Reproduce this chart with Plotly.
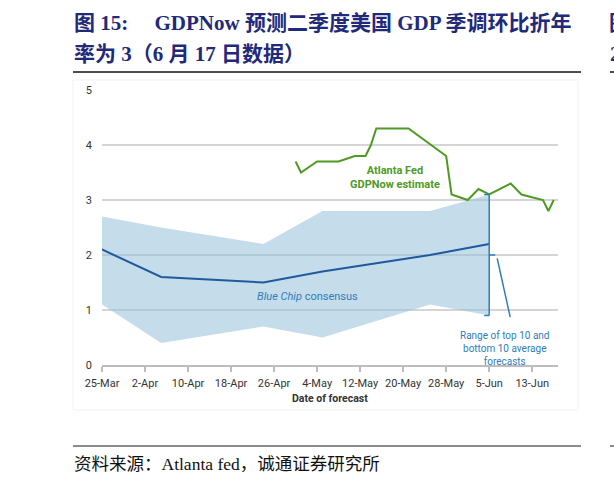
import plotly.graph_objects as go

# ---------------- data ----------------
# Blue Chip consensus survey points and range of top-10 / bottom-10 averages
bc_dates = ["2024-03-25", "2024-04-05", "2024-04-24", "2024-05-05", "2024-05-25", "2024-06-05"]
bc_consensus = [2.1, 1.6, 1.5, 1.7, 2.0, 2.2]
bc_top10 = [2.7, 2.5, 2.2, 2.8, 2.8, 3.1]
bc_bottom10 = [1.1, 0.4, 0.7, 0.5, 1.1, 0.9]

# Atlanta Fed GDPNow estimates
gdpnow_dates = ["2024-04-30", "2024-05-01", "2024-05-04", "2024-05-08", "2024-05-11",
                "2024-05-13", "2024-05-14", "2024-05-15", "2024-05-21", "2024-05-28",
                "2024-05-29", "2024-06-01", "2024-06-03", "2024-06-05", "2024-06-09",
                "2024-06-11", "2024-06-15", "2024-06-16", "2024-06-17"]
gdpnow = [3.7, 3.5, 3.7, 3.7, 3.8, 3.8, 4.0, 4.3, 4.3, 3.8,
          3.1, 3.0, 3.2, 3.1, 3.3, 3.1, 3.0, 2.8, 3.0]

tick_dates = ["2024-03-25", "2024-04-02", "2024-04-10", "2024-04-18", "2024-04-26",
              "2024-05-04", "2024-05-12", "2024-05-20", "2024-05-28", "2024-06-05",
              "2024-06-13"]
tick_labels = ["25-Mar", "2-Apr", "10-Apr", "18-Apr", "26-Apr", "4-May", "12-May",
               "20-May", "28-May", "5-Jun", "13-Jun"]
y_ticks = [0, 1, 2, 3, 4, 5]

title_line1 = "图 15:\u00a0\u00a0\u00a0\u00a0 GDPNow 预测二季度美国 GDP 季调环比折年"
title_line2 = "率为 3（6 月 17 日数据）"
source_text = "资料来源：Atlanta fed，诚通证券研究所"

# ---------------- styles ----------------
W, H = 614, 485
L, R, T, B = 102, 558, 90, 365  # plot area in pixels


def px(x):
    return (x - L) / (R - L)


def py(y):
    return (B - y) / (B - T)


GREEN = "#4f9a24"
BLUE_LINE = "#1f5a9e"
BLUE_TXT = "#2f7dbb"
BAND = "rgba(150,192,218,0.55)"
NAVY = "#1f2a7a"
CHART_FONT = "Roboto, Noto Sans, sans-serif"
TITLE_FONT = "Liberation Serif, Noto Sans CJK SC, serif"

fig = go.Figure()

fig.add_trace(go.Scatter(x=bc_dates, y=bc_bottom10, mode="lines",
                         line=dict(width=0, color=BAND), hoverinfo="skip"))
fig.add_trace(go.Scatter(x=bc_dates, y=bc_top10, mode="lines", fill="tonexty",
                         fillcolor=BAND, line=dict(width=0, color=BAND), hoverinfo="skip"))
fig.add_trace(go.Scatter(x=bc_dates, y=bc_consensus, mode="lines",
                         line=dict(width=2, color=BLUE_LINE)))
fig.add_trace(go.Scatter(x=gdpnow_dates, y=gdpnow, mode="lines",
                         line=dict(width=2, color=GREEN)))

shapes = []
end_d = bc_dates[-1]
top_v, bot_v = bc_top10[-1], bc_bottom10[-1]
mid_v = (top_v + bot_v) / 2
bl = dict(color=BLUE_TXT, width=1.5)
shapes.append(dict(type="line", xref="x", yref="y", x0=end_d, x1=end_d, y0=bot_v, y1=top_v, line=bl))
shapes.append(dict(type="line", xref="x", yref="y", xsizemode="pixel", xanchor=end_d,
                   x0=-5, x1=0, y0=top_v, y1=top_v, line=bl))
shapes.append(dict(type="line", xref="x", yref="y", xsizemode="pixel", xanchor=end_d,
                   x0=-5, x1=0, y0=bot_v, y1=bot_v, line=bl))
shapes.append(dict(type="line", xref="x", yref="y", xsizemode="pixel", xanchor=end_d,
                   x0=0, x1=6, y0=mid_v, y1=mid_v, line=bl))
shapes.append(dict(type="line", xref="x", yref="y", xsizemode="pixel", xanchor=end_d,
                   x0=8, x1=21, y0=mid_v - 0.06, y1=bot_v - 0.03, line=bl))

# page decorations
shapes.append(dict(type="line", xref="paper", yref="paper", x0=px(73), x1=px(581),
                   y0=py(72), y1=py(72), line=dict(color="#111111", width=1.5)))
shapes.append(dict(type="line", xref="paper", yref="paper", x0=px(73), x1=px(581),
                   y0=py(446), y1=py(446), line=dict(color="#666666", width=1.5)))
shapes.append(dict(type="line", xref="paper", yref="paper", x0=px(610), x1=px(616),
                   y0=py(72), y1=py(72), line=dict(color="#111111", width=1.5)))
shapes.append(dict(type="line", xref="paper", yref="paper", x0=px(610), x1=px(616),
                   y0=py(446), y1=py(446), line=dict(color="#666666", width=1.5)))
shapes.append(dict(type="rect", xref="paper", yref="paper", x0=px(73), x1=px(578),
                   y0=py(80), y1=py(410), line=dict(color="#f2f2f2", width=1), layer="below"))

annotations = [
    dict(text="<b>" + title_line1 + "</b>", x=px(72), y=py(23), xanchor="left", yanchor="middle",
         font=dict(family=TITLE_FONT, size=21, color=NAVY)),
    dict(text="<b>" + title_line2 + "</b>", x=px(72), y=py(54), xanchor="left", yanchor="middle",
         font=dict(family=TITLE_FONT, size=21, color=NAVY)),
    dict(text="<b>图</b>", x=px(607), y=py(23), xanchor="left", yanchor="middle",
         font=dict(family=TITLE_FONT, size=21, color=NAVY)),
    dict(text="<b>2</b>", x=px(608), y=py(54), xanchor="left", yanchor="middle",
         font=dict(family=TITLE_FONT, size=21, color=NAVY)),
    dict(text=source_text, x=px(72), y=py(464), xanchor="left", yanchor="middle",
         font=dict(family=TITLE_FONT, size=17.5, color="#111111")),
    dict(text="<b>Date of forecast</b>", x=px(330), y=py(398), xanchor="center", yanchor="middle",
         font=dict(family=CHART_FONT, size=10.5, color="#333333")),
    dict(text="<b>Atlanta Fed<br>GDPNow estimate</b>", x=px(395), y=py(177), xanchor="center",
         yanchor="middle", font=dict(family=CHART_FONT, size=11, color=GREEN)),
    dict(text="<i>Blue Chip</i> consensus", x=px(307), y=py(296), xanchor="center",
         yanchor="middle", font=dict(family=CHART_FONT, size=11, color=BLUE_TXT)),
    dict(text="Range of top 10 and<br>bottom 10 average<br>forecasts", x=px(504), y=py(348),
         xanchor="center", yanchor="middle", align="center",
         font=dict(family=CHART_FONT, size=10, color=BLUE_TXT)),
]
for a in annotations:
    a.update(xref="paper", yref="paper", showarrow=False)

fig.update_layout(
    width=W, height=H,
    margin=dict(l=L, r=W - R, t=T, b=H - B, pad=0),
    paper_bgcolor="white", plot_bgcolor="white",
    showlegend=False,
    shapes=shapes, annotations=annotations,
    font=dict(family=CHART_FONT),
    xaxis=dict(type="date", range=["2024-03-25", "2024-06-17 19:00"],
               tickmode="array", tickvals=tick_dates, ticktext=tick_labels,
               showgrid=False, zeroline=False, showline=True, linecolor="#bdbdbd", linewidth=1.5,
               ticks="outside", ticklen=5, tickwidth=1.5, tickcolor="#bdbdbd",
               tickfont=dict(size=11, color="#333333"), ticklabelstandoff=2, fixedrange=True),
    yaxis=dict(range=[0, 5], tickmode="array", tickvals=y_ticks,
               showgrid=True, gridcolor="#d5d5d5", gridwidth=1.5, zeroline=False,
               showline=False, ticks="", tickfont=dict(size=11, color="#333333"),
               ticklabelstandoff=9, fixedrange=True),
)

fig.write_html("out.html")
